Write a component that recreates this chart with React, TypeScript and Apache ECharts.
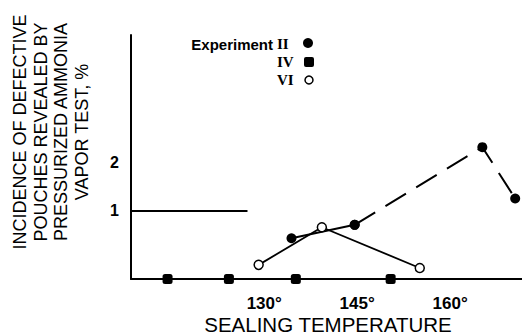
import React, { useEffect, useRef } from "react";
import * as echarts from "echarts";

// Sealing temperature (°C) and incidence (%)
const expIITemp = [134.4, 144.6, 165.2, 170.5];
const expIIVal = [0.43, 0.71, 2.33, 1.26];
const expIISolidCount = 2; // first segment is drawn solid, rest dashed

const expIVTemp = [114.4, 124.3, 135.1, 150.4];
const expIVVal = [-0.42, -0.42, -0.42, -0.42];

const expVITemp = [129.1, 139.3, 155.1];
const expVIVal = [-0.125, 0.66, -0.19];

const xTickValues = [130, 145, 160];
const yTickValues = [1, 2];
const refLineLevel = 1;
const refLineStart = 108.5;
const refLineEnd = 127.3;

const xMin = 108.5;
const xMax = 171.6;
const yMin = -0.42;
const yMax = 4.67;

const yTitle = ["INCIDENCE OF DEFECTIVE", "POUCHES REVEALED BY", "PRESSURIZED AMMONIA", "VAPOR TEST, %"];
const xTitle = "SEALING TEMPERATURE";
const legendTitle = "Experiment";
const legendNames = ["II", "IV", "VI"];

const zip = (xs: number[], ys: number[]) => xs.map((x, i) => [x, ys[i]]);

export default function App() {
  const ref = useRef<HTMLDivElement>(null);
  useEffect(() => {
    if (!ref.current) return;
    const chart = echarts.init(ref.current, null, { renderer: "svg" });
    const sans = "Liberation Sans";
    const serif = "Liberation Serif";
    const iiData = zip(expIITemp, expIIVal);
    chart.setOption({
      animation: false,
      backgroundColor: "#fff",
      grid: { left: 131, right: 0, top: 35, bottom: 56, outerBoundsMode: "none", containLabel: false },
      xAxis: {
        type: "value",
        min: xMin,
        max: xMax,
        axisLine: { onZero: false, lineStyle: { color: "#000", width: 2 } },
        axisTick: { show: false },
        splitLine: { show: false },
        axisLabel: {
          customValues: xTickValues,
          formatter: (v: number) => `${v}°`,
          color: "#000",
          fontFamily: sans,
          fontWeight: "bold",
          fontSize: 17,
          margin: 16,
        },
      },
      yAxis: {
        type: "value",
        min: yMin,
        max: yMax,
        axisLine: { show: true, onZero: false, lineStyle: { color: "#000", width: 2 } },
        axisTick: { show: false },
        splitLine: { show: false },
        axisLabel: {
          customValues: yTickValues,
          color: "#000",
          fontFamily: sans,
          fontWeight: "bold",
          fontSize: 16,
          margin: 12,
        },
      },
      graphic: [
        {
          type: "text",
          x: 51,
          y: 132,
          rotation: Math.PI / 2,
          style: {
            text: yTitle.join("\n"),
            fontFamily: sans,
            fontSize: 18,
            lineHeight: 20.5,
            fill: "#000",
            align: "center",
            verticalAlign: "middle",
          },
        },
        {
          type: "text",
          x: 328,
          y: 324,
          style: { text: xTitle, fontFamily: sans, fontSize: 20.5, fill: "#000", align: "center", verticalAlign: "middle" },
        },
        {
          type: "text",
          x: 273,
          y: 44,
          style: { text: legendTitle, fontFamily: sans, fontWeight: "bold", fontSize: 15, fill: "#000", align: "right", verticalAlign: "middle" },
        },
        ...legendNames.map((n, i) => ({
          type: "text",
          x: 277,
          y: 44 + i * 18,
          style: { text: n, fontFamily: serif, fontWeight: "bold", fontSize: 15, fill: "#000", align: "left", verticalAlign: "middle" },
        })),
        { type: "circle", shape: { cx: 308, cy: 43, r: 5 }, style: { fill: "#000" } },
        { type: "rect", shape: { x: 304, y: 57, width: 10, height: 10, r: 2 }, style: { fill: "#000" } },
        { type: "circle", shape: { cx: 309, cy: 80, r: 4 }, style: { fill: "#fff", stroke: "#000", lineWidth: 1.5 } },
      ],
      series: [
        {
          name: "IV",
          type: "line",
          data: zip(expIVTemp, expIVVal),
          symbol: "roundRect",
          symbolSize: 10,
          itemStyle: { color: "#000" },
          lineStyle: { color: "#000", width: 2 },
          z: 3,
          markLine: {
            silent: true,
            symbol: "none",
            label: { show: false },
            lineStyle: { color: "#000", width: 2, type: "solid" },
            data: [[{ coord: [refLineStart, refLineLevel] }, { coord: [refLineEnd, refLineLevel] }]],
          },
        },
        {
          name: "II",
          type: "line",
          data: iiData.slice(0, expIISolidCount),
          symbol: "circle",
          symbolSize: 10,
          itemStyle: { color: "#000" },
          lineStyle: { color: "#000", width: 2 },
          z: 3,
        },
        {
          name: "II dashed",
          type: "line",
          data: iiData.slice(expIISolidCount - 1),
          symbol: "circle",
          symbolSize: 10,
          itemStyle: { color: "#000" },
          lineStyle: { color: "#000", width: 2, type: [24, 12] },
          z: 3,
        },
        {
          name: "VI",
          type: "line",
          data: zip(expVITemp, expVIVal),
          symbol: "circle",
          symbolSize: 9,
          itemStyle: { color: "#fff", borderColor: "#000", borderWidth: 1.5 },
          lineStyle: { color: "#000", width: 1.8 },
          z: 4,
        },
      ],
    });
    return () => chart.dispose();
  }, []);
  return <div ref={ref} style={{ position: "fixed", left: 0, top: 0, width: 522, height: 335 }} />;
}
